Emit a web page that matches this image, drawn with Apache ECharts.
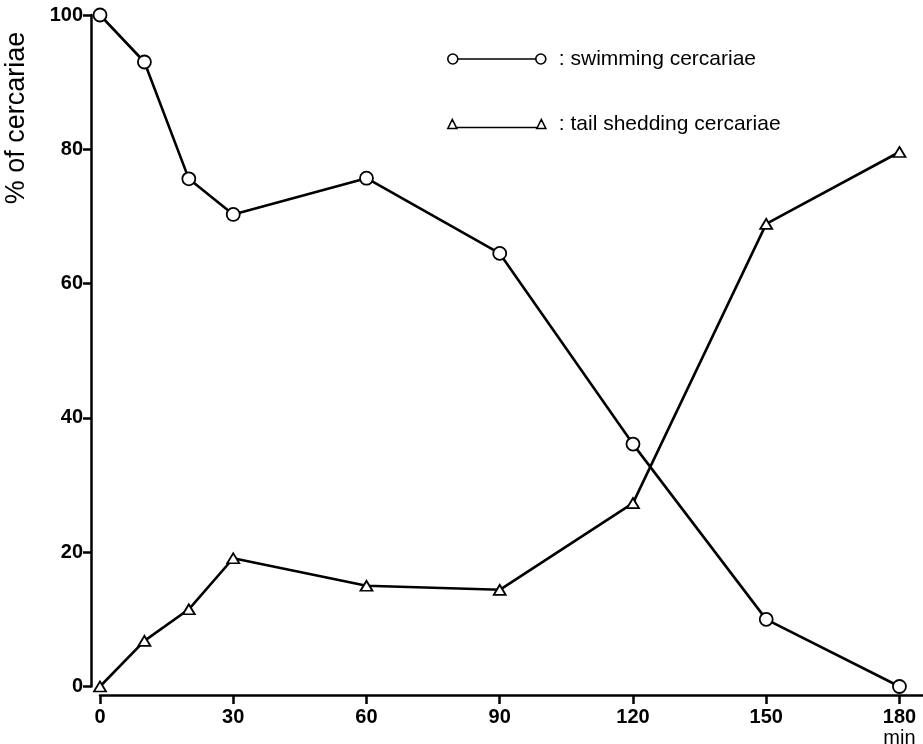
<!DOCTYPE html>
<html>
<head>
<meta charset="utf-8">
<script src="https://cdn.jsdelivr.net/npm/echarts@6/dist/echarts.min.js"></script>
<style>html,body{margin:0;padding:0;background:#fff;}#c{width:923px;height:744px;}</style>
</head>
<body>
<div id="c"></div>
<script>
const minutes = [0, 10, 20, 30, 60, 90, 120, 150, 180];
const swimming = [100, 93, 75.6, 70.3, 75.7, 64.5, 36.1, 10, 0];
const tailShedding = [0, 6.8, 11.5, 19.1, 15.0, 14.4, 27.3, 68.9, 79.6];
const xTicks = [0, 30, 60, 90, 120, 150, 180];
const yTicks = [0, 20, 40, 60, 80, 100];
const seriesNames = ['swimming cercariae', 'tail shedding cercariae'];
const yAxisTitle = '% of cercariae';
const xUnit = 'min';

const chart = echarts.init(document.getElementById('c'), null, {renderer: 'canvas'});
const labelFont = {fontFamily: 'Liberation Sans', fontWeight: 'bold', fontSize: 20, color: '#000'};

chart.setOption({
  animation: false,
  backgroundColor: '#fff',
  grid: {left: 100, right: 0, top: 15, bottom: 57.5, containLabel: false, outerBoundsMode: 'none'},
  xAxis: {
    type: 'value', min: 0, max: 185.3, offset: 8.5,
    splitLine: {show: false},
    axisLine: {show: true, onZero: false, lineStyle: {color: '#000', width: 2.5}},
    axisTick: {show: true, customValues: xTicks, length: 9, lineStyle: {color: '#000', width: 2.5}},
    axisLabel: {
      customValues: xTicks, margin: 11,
      formatter: v => v === 180 ? '{b|180}\n{n|' + xUnit + '}' : '{b|' + v + '}',
      rich: {
        b: Object.assign({}, labelFont, {lineHeight: 22}),
        n: {fontFamily: 'Liberation Sans', fontSize: 20, color: '#000', lineHeight: 20}
      },
      verticalAlign: 'top'
    }
  },
  yAxis: {
    type: 'value', min: 0, max: 100, interval: 20, offset: 9,
    splitLine: {show: false},
    axisLine: {show: true, onZero: false, lineStyle: {color: '#000', width: 2.5}},
    axisTick: {show: true, length: 8, lineStyle: {color: '#000', width: 2.5}},
    axisLabel: Object.assign({margin: 8}, labelFont)
  },
  legend: {
    orient: 'vertical', left: 442, top: 43, itemGap: 43,
    itemWidth: 98, itemHeight: 11,
    formatter: n => ': ' + n,
    textStyle: {fontFamily: 'Liberation Sans', fontSize: 21, color: '#000', padding: [0, 0, 0, 8], lineHeight: 22},
    data: [
      {name: seriesNames[0], icon: 'path://M1,6 A5,5 0 1 1 11,6 A5,5 0 1 1 1,6 Z M11,6 L89,6 M89,6 A5,5 0 1 1 99,6 A5,5 0 1 1 89,6 Z',
       itemStyle: {color: '#fff', borderColor: '#000', borderWidth: 1.6}},
      {name: seriesNames[1], icon: 'path://M0,11 L4.5,2 L9,11 Z M9,10 L89,10 M89,11 L93.5,2 L98,11 Z',
       itemStyle: {color: '#fff', borderColor: '#000', borderWidth: 1.6}}
    ]
  },
  graphic: [{
    type: 'text', x: 17, y: 118, rotation: Math.PI / 2,
    style: {text: yAxisTitle, fontFamily: 'Liberation Sans', fontSize: 27, fill: '#000', align: 'center', verticalAlign: 'middle'}
  }],
  series: [
    {
      name: seriesNames[1], type: 'line', z: 2,
      data: minutes.map((m, i) => [m, tailShedding[i]]),
      symbol: 'triangle', symbolSize: [12, 10],
      lineStyle: {color: '#000', width: 2.6},
      itemStyle: {color: '#fff', borderColor: '#000', borderWidth: 1.8}
    },
    {
      name: seriesNames[0], type: 'line', z: 3,
      data: minutes.map((m, i) => [m, swimming[i]]),
      symbol: 'circle', symbolSize: 13,
      lineStyle: {color: '#000', width: 2.6},
      itemStyle: {color: '#fff', borderColor: '#000', borderWidth: 1.8}
    }
  ]
});
</script>
</body>
</html>
